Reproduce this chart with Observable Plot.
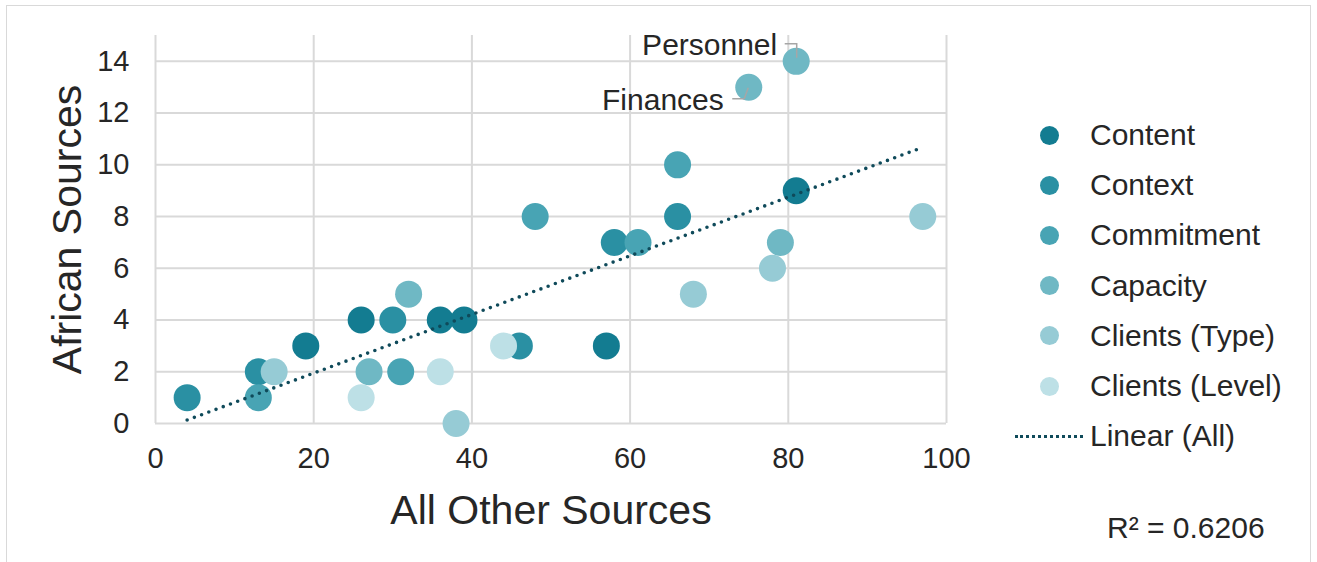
<!DOCTYPE html>
<html><head><meta charset="utf-8">
<script src="https://cdn.jsdelivr.net/npm/d3@7"></script>
<script src="https://cdn.jsdelivr.net/npm/@observablehq/plot@0.6"></script>
<style>
body{margin:0;background:#fff;font-family:"Liberation Sans",Arial,sans-serif;color:#262626}
#wrap{position:relative;width:1317px;height:562px;overflow:hidden;background:#fff}
#frame{position:absolute;left:6px;top:5px;width:1305px;height:600px;border:1px solid #d9d9d9;box-sizing:border-box}
#chart{position:absolute;left:0;top:0}
.leg{position:absolute;left:1015px;height:50px;display:flex;align-items:center;font-size:30px;white-space:nowrap}
.sw{width:75px;height:50px;position:relative}
.sw .c{position:absolute;left:24.5px;top:15.5px;width:19px;height:19px;border-radius:50%}
.sw .l{position:absolute;left:0;width:68px;top:24px;height:0;border-top:3.5px dotted #0f4a5a}
#r2{position:absolute;left:1107px;top:510px;font-size:30px;line-height:36px}
</style></head>
<body>
<div id="wrap"><div id="frame"></div><div id="chart"></div><div id="legendBox"></div><div id="r2"></div></div>
<script>
// ---- data ----
const seriesNames = ["Content","Context","Commitment","Capacity","Clients (Type)","Clients (Level)"];
const seriesColors = ["#137c91","#2a90a3","#48a4b4","#6fb8c4","#96cbd5","#bde0e6"];
const contentX = [19,26,36,39,57,81];        const contentY = [3,4,4,4,3,9];
const contextX = [4,13,30,46,58,66];         const contextY = [1,2,4,3,7,8];
const commitmentX = [13,31,48,61,66];        const commitmentY = [1,2,8,7,10];
const capacityX = [27,32,75,79,81];          const capacityY = [2,5,13,7,14];
const clientsTypeX = [15,38,68,78,97];       const clientsTypeY = [2,0,5,6,8];
const clientsLevelX = [26,36,44];            const clientsLevelY = [1,2,3];
const xTicks = [0,20,40,60,80,100];
const yTicks = [0,2,4,6,8,10,12,14];
const annotationLabels = ["Personnel","Finances"];
const annotationX = [81,75];
const annotationY = [14,13];
const trendLabel = "Linear (All)";
const r2Text = "R² = 0.6206";
const xTitle = "All Other Sources";
const yTitle = "African Sources";

// ---- build table ----
const seriesXs = [contentX,contextX,commitmentX,capacityX,clientsTypeX,clientsLevelX];
const seriesYs = [contentY,contextY,commitmentY,capacityY,clientsTypeY,clientsLevelY];
const rows = [];
seriesNames.forEach((s,i)=>seriesXs[i].forEach((x,j)=>rows.push({series:s,x,y:seriesYs[i][j]})));
const ann = annotationLabels.map((label,i)=>({label,x:annotationX[i],y:annotationY[i]}));

const textColor = "#262626";
const gridColor = "#d9d9d9";

// leader lines for annotations (pixel offsets relative to the data point via scales)
const leaderOffsets = {
  "Personnel": [[-11,-17],[1,-17],[1,-3]],
  "Finances": [[-16,12],[-4,12],[0,1]]
};
function leaders(index, scales, values, dims, context) {
  const g = d3.select(context.document.createElementNS("http://www.w3.org/2000/svg","g"));
  for (const a of ann) {
    const px = scales.x(a.x), py = scales.y(a.y);
    const pts = leaderOffsets[a.label].map(([dx,dy])=>[px+dx,py+dy]);
    g.append("path").attr("d","M"+pts.map(p=>p.join(",")).join("L"))
      .attr("fill","none").attr("stroke","#a6a6a6").attr("stroke-width",1.5);
  }
  return g.node();
}

const plot = Plot.plot({
  width: 1000, height: 562,
  marginLeft: 155, marginRight: 54, marginTop: 35, marginBottom: 139,
  style: {fontFamily: '"Liberation Sans", Arial, sans-serif', color: textColor, background: "transparent"},
  x: {domain: [0,100]},
  y: {domain: [0,15]},
  color: {domain: seriesNames, range: seriesColors},
  marks: [
    Plot.gridX(xTicks.filter(d=>d>0), {stroke: gridColor, strokeOpacity: 1, strokeWidth: 2}),
    Plot.gridY(yTicks.filter(d=>d>0), {stroke: gridColor, strokeOpacity: 1, strokeWidth: 2}),
    Plot.ruleX([0], {stroke: gridColor, strokeWidth: 2}),
    Plot.ruleY([0], {stroke: gridColor, strokeWidth: 2}),
    Plot.axisX(xTicks, {tickSize: 0, tickPadding: 24, fontSize: 29, fill: textColor, label: null}),
    Plot.axisY(yTicks, {tickSize: 0, tickPadding: 26, fontSize: 29, fill: textColor, label: null}),
    Plot.text([xTitle], {frameAnchor: "bottom", dy: 87, fontSize: 41, fill: textColor, lineAnchor: "middle"}),
    Plot.text([yTitle], {frameAnchor: "left", dx: -88, rotate: -90, textAnchor: "middle", fontSize: 41, fill: textColor, lineAnchor: "middle"}),
    Plot.dot(rows, {x: "x", y: "y", r: 13.5, fill: "series", stroke: null}),
    Plot.linearRegressionY(rows, {x: "x", y: "y", ci: 0, stroke: "#0f4a5a", strokeWidth: 3.6, strokeDasharray: "0 7.7", strokeLinecap: "round"}),
    leaders,
    Plot.text(ann.filter(a=>a.label==="Personnel"), {x: "x", y: "y", text: "label", dx: -19, dy: -16, textAnchor: "end", fontSize: 30, fill: textColor, lineAnchor: "middle"}),
    Plot.text(ann.filter(a=>a.label==="Finances"), {x: "x", y: "y", text: "label", dx: -25, dy: 13, textAnchor: "end", fontSize: 30, fill: textColor, lineAnchor: "middle"})
  ]
});
document.getElementById("chart").appendChild(plot);

// ---- legend ----
const lb = document.getElementById("legendBox");
const rowTop = 110, rowStep = 50.2;
seriesNames.forEach((s,i)=>{
  const d = document.createElement("div");
  d.className = "leg"; d.style.top = (rowTop + i*rowStep) + "px";
  d.innerHTML = `<div class="sw"><div class="c" style="background:${seriesColors[i]}"></div></div><span>${s}</span>`;
  lb.appendChild(d);
});
const t = document.createElement("div");
t.className = "leg"; t.style.top = (rowTop + 6*rowStep) + "px";
t.innerHTML = `<div class="sw"><div class="l"></div></div><span>${trendLabel}</span>`;
lb.appendChild(t);
document.getElementById("r2").textContent = r2Text;
</script>
</body></html>
